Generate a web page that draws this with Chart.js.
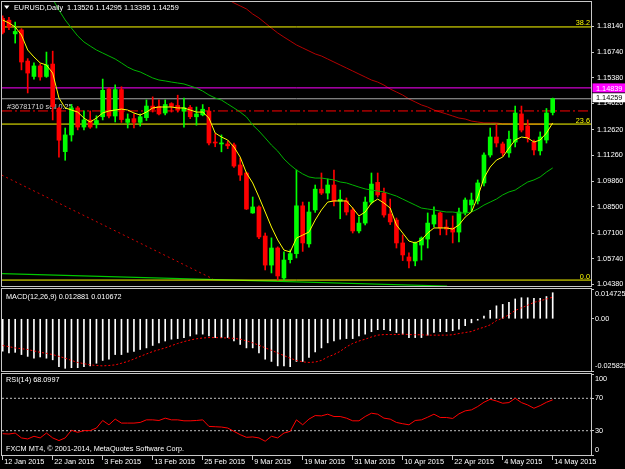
<!DOCTYPE html>
<html><head><meta charset="utf-8">
<script src="https://cdn.jsdelivr.net/npm/chart.js@4.4.1/dist/chart.umd.min.js"></script>
<style>
html,body{margin:0;padding:0;background:#000;width:625px;height:469px;overflow:hidden;}
canvas{position:absolute;left:0;}
</style></head><body>
<canvas id="main" width="625" height="288" style="top:0px"></canvas>
<canvas id="macd" width="625" height="85" style="top:288px"></canvas>
<canvas id="rsi" width="625" height="96" style="top:373px"></canvas>
<script>
// ---------- DATA (EURUSD Daily, 12 Jan 2015 - 14 May 2015, bar index 0..88) ----------
const opens  = [1.1855,1.1845,1.1772,1.1793,1.1627,1.1545,1.1601,1.1545,1.1611,1.1375,
1.1144,1.1233,1.1377,1.1275,1.1313,1.1290,1.1330,1.1478,1.1334,1.1475,
1.1300,1.1320,1.1300,1.1325,1.1387,1.1385,1.1350,1.1400,1.1390,1.1360,
1.1380,1.1330,1.1340,1.1360,1.1195,1.1185,1.1185,1.1180,1.1073,1.1030,
1.0817,1.0849,1.0694,1.0539,1.0630,1.0470,1.0568,1.0600,1.0855,1.0652,
1.0833,1.0944,1.0923,1.0966,1.0880,1.0881,1.0833,1.0721,1.0763,1.0875,
1.0980,1.0923,1.0811,1.0779,1.0657,1.0582,1.0561,1.0646,1.0678,1.0758,
1.0817,1.0742,1.0737,1.0715,1.0817,1.0860,1.0881,1.0977,1.1126,1.1222,
1.1185,1.1137,1.1195,1.1345,1.1281,1.1195,1.1148,1.1206,1.13526];
const highs  = [1.1868,1.1860,1.1835,1.1800,1.1640,1.1617,1.1612,1.1675,1.1680,1.1380,
1.1270,1.1395,1.1385,1.1361,1.1361,1.1335,1.1531,1.1484,1.1500,1.1490,
1.1345,1.1345,1.1345,1.1420,1.1436,1.1420,1.1420,1.1405,1.1445,1.1430,
1.1390,1.1382,1.1395,1.1380,1.1240,1.1233,1.1200,1.1190,1.1110,1.1035,
1.0902,1.0855,1.0710,1.0684,1.0636,1.0609,1.0620,1.1046,1.0875,1.0875,
1.0966,1.1030,1.0998,1.1046,1.0939,1.0897,1.0844,1.0796,1.0902,1.1030,
1.1030,1.0950,1.0891,1.0790,1.0700,1.0604,1.0662,1.0689,1.0817,1.0849,
1.0822,1.0780,1.0801,1.0843,1.0897,1.0923,1.0993,1.1137,1.1270,1.1290,
1.1195,1.1254,1.1387,1.1387,1.1313,1.1206,1.1249,1.1374,1.14295];
const lows   = [1.1772,1.1795,1.1723,1.1580,1.1457,1.1530,1.1525,1.1540,1.1313,1.1115,
1.1098,1.1200,1.1260,1.1260,1.1268,1.1270,1.1313,1.1324,1.1302,1.1300,
1.1270,1.1270,1.1280,1.1310,1.1355,1.1340,1.1340,1.1355,1.1355,1.1275,
1.1320,1.1285,1.1335,1.1180,1.1170,1.1143,1.1160,1.1060,1.0990,1.0835,
1.0815,1.0680,1.0513,1.0497,1.0459,1.0459,1.0550,1.0577,1.0612,1.0635,
1.0820,1.0915,1.0891,1.0854,1.0786,1.0806,1.0710,1.0710,1.0753,1.0865,
1.0902,1.0795,1.0755,1.0630,1.0563,1.0524,1.0535,1.0566,1.0630,1.0742,
1.0700,1.0700,1.0657,1.0662,1.0806,1.0827,1.0865,1.0961,1.1115,1.1169,
1.1121,1.1115,1.1169,1.1249,1.1195,1.1126,1.1126,1.1190,1.13395];
const closes = [1.1780,1.1808,1.1785,1.1622,1.1563,1.1601,1.1542,1.1606,1.1384,1.1205,
1.1233,1.1377,1.1275,1.1313,1.1275,1.1310,1.1471,1.1334,1.1475,1.1315,
1.1318,1.1300,1.1330,1.1387,1.1370,1.1345,1.1395,1.1385,1.1365,1.1378,
1.1330,1.1345,1.1370,1.1190,1.1190,1.1188,1.1175,1.1067,1.1019,1.0838,
1.0849,1.0689,1.0539,1.0630,1.0481,1.0566,1.0600,1.0855,1.0657,1.0822,
1.0944,1.0923,1.0966,1.0880,1.0890,1.0822,1.0721,1.0763,1.0875,1.0971,
1.0913,1.0806,1.0769,1.0657,1.0593,1.0561,1.0657,1.0683,1.0763,1.0806,
1.0737,1.0731,1.0715,1.0822,1.0886,1.0886,1.0977,1.1126,1.1222,1.1190,
1.1137,1.1210,1.1350,1.1259,1.1217,1.1153,1.1222,1.1350,1.14259];

// moving averages (yellow fast, green medium, dark red slow)
const maFast = [1.1846,1.1830,1.1809,1.1766,1.1686,1.1649,1.1617,1.1606,1.1563,1.1430,
1.1377,1.1366,1.1355,1.1323,1.1302,1.1323,1.1350,1.1361,1.1366,1.1371,
1.1366,1.1350,1.1339,1.1355,1.1377,1.1382,1.1382,1.1382,1.1377,1.1377,
1.1366,1.1355,1.1355,1.1323,1.1243,1.1222,1.1206,1.1169,1.1115,1.1030,
1.0977,1.0902,1.0822,1.0742,1.0673,1.0619,1.0609,1.0683,1.0699,1.0715,
1.0779,1.0833,1.0875,1.0881,1.0881,1.0881,1.0843,1.0801,1.0822,1.0870,
1.0891,1.0870,1.0843,1.0753,1.0710,1.0667,1.0657,1.0673,1.0710,1.0737,
1.0737,1.0737,1.0731,1.0753,1.0795,1.0822,1.0902,1.1003,1.1062,1.1099,
1.1115,1.1163,1.1206,1.1222,1.1217,1.1195,1.1206,1.1243,1.1297];
const maMid = [null,null,null,null,null,null,null,null,
1.1958,1.1899,1.1846,1.1803,1.1761,1.1729,1.1707,1.1686,1.1670,1.1654,
1.1638,1.1617,1.1595,1.1579,1.1569,1.1553,1.1537,1.1526,1.1521,1.1515,
1.1510,1.1505,1.1494,1.1483,1.1467,1.1446,1.1430,1.1419,1.1398,1.1377,
1.1355,1.1329,1.1286,1.1254,1.1217,1.1179,1.1147,1.1105,1.1073,1.1046,
1.1025,1.1009,1.1003,1.1003,1.0998,1.0993,1.0982,1.0977,1.0966,1.0955,
1.0945,1.0939,1.0934,1.0929,1.0918,1.0907,1.0891,1.0875,1.0859,1.0843,
1.0838,1.0833,1.0827,1.0822,1.0822,1.0817,1.0817,1.0822,1.0838,1.0859,
1.0875,1.0891,1.0913,1.0929,1.0939,1.0961,1.0982,1.0993,1.1009,1.1035,1.1057];
const maSlow = [null,null,null,null,null,null,null,null,null,null,
null,null,null,null,null,null,null,null,null,null,
null,null,null,null,null,null,null,null,null,null,
null,null,null,null,null,null,
1.1956,1.1937,1.1921,1.1905,1.1878,1.1857,1.1830,1.1803,1.1777,1.1755,
1.1734,1.1713,1.1697,1.1681,1.1665,1.1654,1.1638,1.1622,1.1606,1.1590,
1.1574,1.1558,1.1542,1.1526,1.1515,1.1499,1.1478,1.1462,1.1446,1.1425,
1.1409,1.1393,1.1382,1.1366,1.1355,1.1345,1.1334,1.1323,1.1318,1.1307,
1.1302,1.1297,1.1297,1.1297,1.1292,1.1292,1.1291,1.1291,1.1291,1.1291,1.1291,1.1291,1.1291];

// chart objects
const fibLevels = [1.1809, 1.1291, 1.0459];
const fibLabels = ['38.2', '23.6', '0.0'];
const fibTrend = [{x:-0.16, y:1.1019}, {x:33.65, y:1.0465}];
const lowerLine = [{x:-0.3, y:1.0494}, {x:71.1, y:1.0427}];
const alertLevel = 1.14839;
const bidLevel = 1.14259;
const orderLevel = 1.1361;
const orderLabel = '#36781710 sell 0.25';
const titleText = 'EURUSD,Daily  1.13526 1.14295 1.13395 1.14259';

// MACD(12,26,9)
const macdHist = [-0.0160,-0.0169,-0.0166,-0.0177,-0.0186,-0.0195,-0.0189,-0.0195,-0.0203,-0.0237,
-0.0245,-0.0242,-0.0242,-0.0237,-0.0233,-0.0220,-0.0206,-0.0200,-0.0177,-0.0177,
-0.0166,-0.0161,-0.0152,-0.0144,-0.0132,-0.0119,-0.0110,-0.0101,-0.0098,-0.0093,
-0.0085,-0.0076,-0.0076,-0.0085,-0.0093,-0.0093,-0.0093,-0.0110,-0.0127,-0.0144,
-0.0144,-0.0169,-0.0200,-0.0211,-0.0233,-0.0233,-0.0237,-0.0211,-0.0211,-0.0191,
-0.0164,-0.0144,-0.0119,-0.0110,-0.0101,-0.0098,-0.0098,-0.0085,-0.0076,-0.0064,
-0.0054,-0.0054,-0.0059,-0.0068,-0.0076,-0.0093,-0.0093,-0.0093,-0.0081,-0.0068,
-0.0064,-0.0064,-0.0059,-0.0051,-0.0034,-0.0020,-0.0007,0.0013,0.0042,0.0064,
0.0071,0.0081,0.0098,0.0104,0.0104,0.0101,0.0101,0.0110,0.012881];
const macdSignal = [-0.0132,-0.0138,-0.0144,-0.0148,-0.0152,-0.0159,-0.0166,-0.0171,-0.0177,-0.0186,
-0.0195,-0.0206,-0.0216,-0.0222,-0.0228,-0.0231,-0.0233,-0.0231,-0.0228,-0.0220,
-0.0211,-0.0199,-0.0186,-0.0174,-0.0162,-0.0153,-0.0144,-0.0133,-0.0122,-0.0113,
-0.0105,-0.0099,-0.0095,-0.0093,-0.0093,-0.0094,-0.0095,-0.0097,-0.0101,-0.0109,
-0.0119,-0.0131,-0.0144,-0.0156,-0.0169,-0.0182,-0.0195,-0.0206,-0.0213,-0.0216,
-0.0214,-0.0206,-0.0189,-0.0177,-0.0161,-0.0139,-0.0122,-0.0110,-0.0101,-0.0090,
-0.0081,-0.0078,-0.0078,-0.0078,-0.0076,-0.0078,-0.0079,-0.0079,-0.0081,-0.0081,
-0.0081,-0.0081,-0.0079,-0.0073,-0.0068,-0.0063,-0.0051,-0.0042,-0.0030,-0.0009,
0.0003,0.0020,0.0041,0.0054,0.0067,0.0081,0.0089,0.0098,0.010672];
const macdTicks = [0.014725, 0, -0.025829];
const macdTickLabels = ['0.014725', '0.00', '-0.025829'];
const macdTitle = 'MACD(12,26,9) 0.012881 0.010672';

// RSI(14)
const rsi = [26.3,25.9,27.1,21.1,19.8,23.1,21.1,27.1,21.1,17.8,
21.1,30.5,28.0,30.1,30.1,33.3,42.6,37.3,44.3,39.4,
39.4,39.4,40.2,43.4,43.4,42.6,45.5,43.4,43.4,42.2,
42.2,42.6,43.4,35.3,34.9,34.5,33.3,29.2,25.1,21.8,
22.3,21.1,17.0,23.1,21.1,27.1,29.2,43.4,37.3,44.3,
48.7,48.3,50.4,47.5,47.5,45.5,42.2,42.2,47.5,51.6,
50.4,45.5,44.3,40.2,38.6,37.3,42.6,43.4,46.7,50.4,
46.3,46.3,45.1,50.8,54.5,55.7,59.8,65.1,68.8,66.7,
63.9,64.7,70.0,64.7,61.8,57.7,61.0,65.1,68.0997];
const rsiLevels = [70, 30];
const rsiTicks = [100, 70, 30, 0];
const rsiTickLabels = ['100', '70', '30', '0'];
const rsiTitle = 'RSI(14) 68.0997';
const footerText = 'FXCM MT4, \u00a9 2001-2014, MetaQuotes Software Corp.';

// axis ticks
const priceTicks = [1.18140,1.16740,1.15380,1.14020,1.12620,1.11260,1.09860,1.08500,1.07100,1.05740,1.04380];
const dateTickIdx = [0,8,16,24,32,40,48,56,64,72,80,88];
const dateLabels = ['12 Jan 2015','22 Jan 2015','3 Feb 2015','13 Feb 2015','25 Feb 2015','9 Mar 2015',
  '19 Mar 2015','31 Mar 2015','10 Apr 2015','22 Apr 2015','4 May 2015','14 May 2015'];

// ---------- RENDERING ----------
const FAMILY = "'Liberation Sans', Arial, sans-serif";
const FSIZE = 7.3;
const FONT = FSIZE + 'px ' + FAMILY;
Chart.defaults.font.family = FAMILY;
Chart.defaults.font.size = FSIZE;
Chart.defaults.color = '#ffffff';

const X_MIN = -0.112, X_MAX = 94.128;
const idx = closes.map((_, i) => i);
const candleColor = idx.map(i => closes[i] >= opens[i] ? '#00ff00' : '#ff0000');

function txt(ctx, s, x, y, color, align) {
  ctx.save(); ctx.font = FONT; ctx.fillStyle = color;
  ctx.textAlign = align || 'left'; ctx.textBaseline = 'alphabetic';
  ctx.fillText(s, x, y); ctx.restore();
}
function frame(chart) {
  const a = chart.chartArea, ctx = chart.ctx;
  ctx.save(); ctx.strokeStyle = '#c8c8c8'; ctx.lineWidth = 1;
  ctx.strokeRect(a.left - 0.5, a.top - 0.5, a.right - a.left + 1, a.bottom - a.top + 1);
  ctx.restore();
}
function noPad(s) { s.paddingTop = 0; s.paddingBottom = 0; s.paddingLeft = 0; s.paddingRight = 0; }
function hiddenX() { return {type:'linear', min:X_MIN, max:X_MAX, offset:false, display:false}; }
function sideLabels(chart, vals, labels) {
  const y = chart.scales.y, a = chart.chartArea, ctx = chart.ctx;
  ctx.save(); ctx.font = FONT; ctx.fillStyle = '#ffffff'; ctx.textBaseline = 'middle'; ctx.textAlign = 'left';
  vals.forEach((v, i) => {
    let py = y.getPixelForValue(v);
    py = Math.min(Math.max(py, a.top + 5), a.bottom - 5);
    ctx.fillText(labels[i], a.right + 4, py);
  });
  ctx.restore();
}
function hline(v, color, dash, order) {
  return {type:'line', data:[{x:X_MIN, y:v}, {x:X_MAX, y:v}], borderColor:color, borderWidth:1,
    borderDash:dash || [], pointRadius:0, order:order};
}
const common = {responsive:false, animation:false, events:[], devicePixelRatio:1,
  plugins:{legend:{display:false}, tooltip:{enabled:false}}};

// ----- main price panel -----
new Chart(document.getElementById('main'), {
  type:'bar',
  data:{datasets:[
    {type:'line', data:lowerLine, borderColor:'#00c800', borderWidth:1.2, pointRadius:0, order:30},
    {type:'line', data:fibTrend, borderColor:'#d00000', borderWidth:1, borderDash:[2,3], pointRadius:0, order:29},
    hline(fibLevels[0], '#ffff00', null, 20),
    hline(fibLevels[1], '#ffff00', null, 20),
    hline(fibLevels[2], '#ffff00', null, 20),
    hline(alertLevel, '#ff00ff', null, 21),
    hline(bidLevel, '#a8a8a8', null, 21),
    hline(orderLevel, '#ff0000', [10,3,2,3], 21),
    {type:'line', data:idx.map(i => ({x:i, y:maSlow[i]})), borderColor:'#b40000', borderWidth:1, pointRadius:0, order:25},
    {type:'bar', data:idx.map(i => ({x:i, y:[lows[i], highs[i]]})), backgroundColor:candleColor,
      barThickness:1, grouped:false, order:8},
    {type:'bar', data:idx.map(i => ({x:i, y:[opens[i], closes[i]]})), backgroundColor:candleColor,
      barThickness:4, minBarLength:1, grouped:false, order:7},
    {type:'line', data:idx.map(i => ({x:i, y:maMid[i]})), borderColor:'#00b400', borderWidth:1, pointRadius:0, order:2},
    {type:'line', data:idx.map(i => ({x:i, y:maFast[i]})), borderColor:'#ffff00', borderWidth:1, pointRadius:0, order:1}
  ]},
  options:Object.assign({}, common, {
    layout:{padding:{left:2, top:2, right:0, bottom:2}},
    scales:{
      x:hiddenX(),
      y:{type:'linear', position:'right', min:1.04274, max:1.19420,
        afterBuildTicks:s => { s.ticks = priceTicks.map(v => ({value:v})); },
        afterFit:s => { s.width = 34; noPad(s); },
        ticks:{color:'#ffffff', padding:3, autoSkip:false, callback:v => Number(v).toFixed(5)},
        grid:{drawOnChartArea:false, drawTicks:true, tickLength:3, color:'#c8c8c8'},
        border:{display:false}}
    }
  }),
  plugins:[{
    id:'mainDeco',
    beforeDatasetsDraw(chart) {
      const y = chart.scales.y, a = chart.chartArea, ctx = chart.ctx;
      txt(ctx, orderLabel, 7, y.getPixelForValue(orderLevel) - 2, '#d8d8d8');
      fibLevels.forEach((v, i) => txt(ctx, fibLabels[i], a.right - 1, y.getPixelForValue(v) - 1.5, '#ffff00', 'right'));
    },
    afterDraw(chart) {
      const y = chart.scales.y, a = chart.chartArea, ctx = chart.ctx;
      frame(chart);
      ctx.save(); ctx.fillStyle = '#ffffff'; ctx.beginPath();
      ctx.moveTo(4, 5.5); ctx.lineTo(9.5, 5.5); ctx.lineTo(6.75, 9); ctx.closePath(); ctx.fill(); ctx.restore();
      txt(ctx, titleText, 14, 10, '#ffffff');
      const ya = y.getPixelForValue(alertLevel);
      ctx.fillStyle = '#ff00ff'; ctx.fillRect(a.right + 1.5, ya - 4.5, 34, 9);
      txt(ctx, alertLevel.toFixed(5), a.right + 5, ya + 2.7, '#ffffff');
      const yb = y.getPixelForValue(bidLevel) - 1;
      ctx.fillStyle = '#ffffff'; ctx.fillRect(a.right + 1.5, yb - 4.5, 34, 9);
      txt(ctx, bidLevel.toFixed(5), a.right + 5, yb + 2.7, '#000000');
    }
  }]
});

// ----- MACD panel -----
new Chart(document.getElementById('macd'), {
  type:'bar',
  data:{datasets:[
    {type:'bar', data:idx.map(i => ({x:i, y:macdHist[i]})), backgroundColor:'#ffffff', barThickness:1, grouped:false, order:2},
    {type:'line', data:idx.map(i => ({x:i, y:macdSignal[i]})), borderColor:'#ff0000', borderWidth:1, borderDash:[2,2], pointRadius:0, order:1}
  ]},
  options:Object.assign({}, common, {
    layout:{padding:{left:2, top:1, right:0, bottom:2}},
    scales:{
      x:hiddenX(),
      y:{type:'linear', position:'right', min:-0.025829, max:0.014725,
        afterBuildTicks:s => { s.ticks = macdTicks.map(v => ({value:v})); },
        afterFit:s => { s.width = 34; noPad(s); },
        ticks:{display:false},
        grid:{drawOnChartArea:false, drawTicks:true, tickLength:3, color:'#c8c8c8'},
        border:{display:false}}
    }
  }),
  plugins:[{
    id:'macdDeco',
    afterDraw(chart) {
      frame(chart);
      sideLabels(chart, macdTicks, macdTickLabels);
      txt(chart.ctx, macdTitle, 6, 10.5, '#ffffff');
    }
  }]
});

// ----- RSI panel -----
new Chart(document.getElementById('rsi'), {
  type:'line',
  data:{datasets:[
    hline(rsiLevels[0], '#c0c0c0', [2,2], 5),
    hline(rsiLevels[1], '#c0c0c0', [2,2], 5),
    {type:'line', data:idx.map(i => ({x:i, y:rsi[i]})), borderColor:'#ff0000', borderWidth:1, pointRadius:0, order:1}
  ]},
  options:Object.assign({}, common, {
    layout:{padding:{left:2, top:1, right:0, bottom:0}},
    scales:{
      x:{type:'linear', position:'bottom', min:X_MIN, max:X_MAX, offset:false,
        afterBuildTicks:s => { s.ticks = dateTickIdx.map(v => ({value:v})); },
        afterFit:s => { s.height = 14; noPad(s); },
        ticks:{color:'#ffffff', align:'start', labelOffset:1.5, padding:-2, maxRotation:0, minRotation:0, autoSkip:false,
          callback:v => dateLabels[dateTickIdx.indexOf(v)]},
        grid:{drawOnChartArea:false, drawTicks:true, tickLength:5, color:'#c8c8c8'},
        border:{display:false}},
      y:{type:'linear', position:'right', min:0, max:100,
        afterBuildTicks:s => { s.ticks = rsiTicks.map(v => ({value:v})); },
        afterFit:s => { s.width = 34; noPad(s); },
        ticks:{display:false},
        grid:{drawOnChartArea:false, drawTicks:true, tickLength:3, color:'#c8c8c8'},
        border:{display:false}}
    }
  }),
  plugins:[{
    id:'rsiDeco',
    afterDraw(chart) {
      frame(chart);
      sideLabels(chart, rsiTicks, rsiTickLabels);
      txt(chart.ctx, rsiTitle, 6, 9, '#ffffff');
      txt(chart.ctx, footerText, 6, 78, '#ffffff');
    }
  }]
});
</script>
</body></html>
